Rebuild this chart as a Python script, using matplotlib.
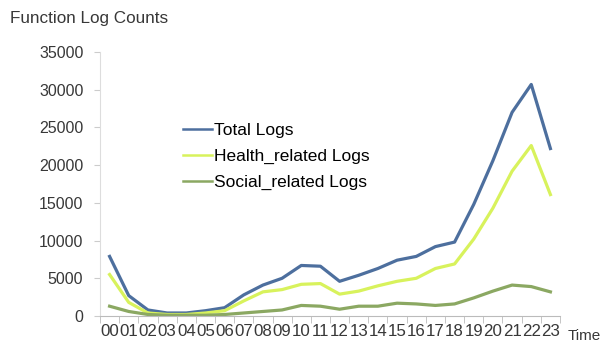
import numpy as np
import matplotlib.pyplot as plt

hours = ["%02d" % h for h in range(24)]
total_logs = [7900, 2700, 800, 400, 400, 700, 1100, 2800, 4100, 5000, 6700, 6600,
              4600, 5400, 6300, 7400, 7900, 9200, 9800, 14800, 20600, 27000, 30700, 22200]
health_logs = [5500, 1800, 400, 200, 200, 400, 700, 2000, 3200, 3500, 4200, 4300,
               2900, 3300, 4000, 4600, 5000, 6300, 6900, 10200, 14300, 19200, 22600, 16100]
social_logs = [1300, 600, 200, 100, 100, 100, 200, 400, 600, 800, 1400, 1300,
               900, 1300, 1300, 1700, 1600, 1400, 1600, 2400, 3300, 4100, 3900, 3200]
yticks = [0, 5000, 10000, 15000, 20000, 25000, 30000, 35000]

plt.rcParams['font.family'] = ['Liberation Sans', 'DejaVu Sans']
txt = '#383838'

fig = plt.figure(figsize=(6.09, 3.45), dpi=100)
ax = fig.add_axes([100/609, 1-316/345, 460/609, 264/345])

x = np.arange(len(hours))
ax.plot(x, total_logs, color='#4d6f9e', lw=2.3, label='Total Logs')
ax.plot(x, health_logs, color='#d8f25c', lw=2.3, label='Health_related Logs')
ax.plot(x, social_logs, color='#8ba862', lw=2.3, label='Social_related Logs')

ax.set_xlim(-0.5, len(hours) - 0.5)
ax.set_ylim(0, 35000)
ax.set_yticks(yticks)
ax.set_yticklabels([str(v) for v in yticks], fontsize=11.5, color=txt)
ax.set_xticks(x)
ax.set_xticklabels(hours, fontsize=12.2, color=txt)
ax.set_xticks(np.arange(-0.5, len(hours)), minor=True)
ax.tick_params(axis='x', which='major', length=0, pad=6)
ax.tick_params(axis='x', which='minor', length=5, color='#bbbbbb', direction='out')
ax.tick_params(axis='y', length=4, color='#cccccc', pad=8)

for s in ['top', 'right']:
    ax.spines[s].set_visible(False)
ax.spines['left'].set_color('#dddddd')
ax.spines['bottom'].set_color('#bbbbbb')

leg = ax.legend(loc='upper left', bbox_to_anchor=(0.18, 0.73), frameon=False,
                fontsize=12.5, handlelength=1.7, labelspacing=0.6, handletextpad=0.1,
                borderpad=0, borderaxespad=0)
for h in leg.get_lines():
    h.set_linewidth(1.8)

fig.text(10/609, 1-18/345, 'Function Log Counts', fontsize=12.3, color=txt, va='center')
fig.text(568/609, 1-336/345, 'Time', fontsize=11, color=txt, va='center')

fig.savefig('out.png', dpi=100)
